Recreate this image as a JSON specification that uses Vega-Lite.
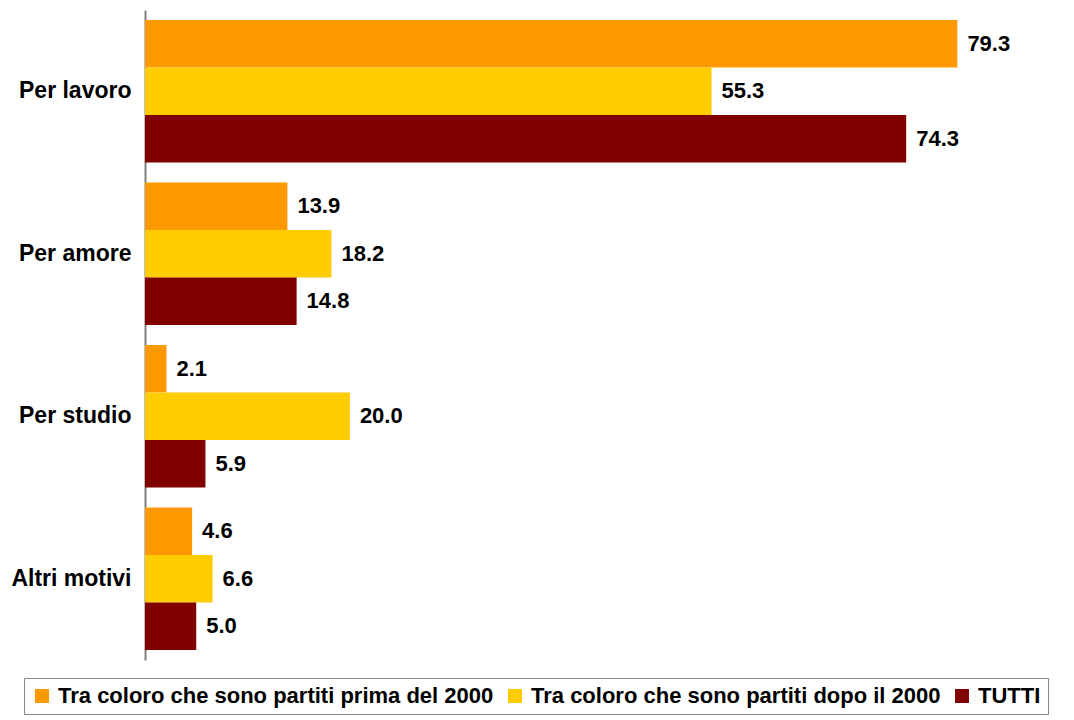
{
  "$schema": "https://vega.github.io/schema/vega-lite/v6.json",
  "width": 922,
  "height": 650,
  "autosize": "none",
  "padding": {"left": 145, "top": 10, "right": 7, "bottom": 60},
  "background": "white",
  "config": {
    "view": {"stroke": null},
    "font": "Liberation Sans"
  },
  "data": {
    "values": [
      {"motivo": "Per lavoro", "gruppo": "Tra coloro che sono partiti prima del 2000", "ord": 1, "valore": 79.3},
      {"motivo": "Per lavoro", "gruppo": "Tra coloro che sono partiti dopo il 2000", "ord": 2, "valore": 55.3},
      {"motivo": "Per lavoro", "gruppo": "TUTTI", "ord": 3, "valore": 74.3},
      {"motivo": "Per amore", "gruppo": "Tra coloro che sono partiti prima del 2000", "ord": 1, "valore": 13.9},
      {"motivo": "Per amore", "gruppo": "Tra coloro che sono partiti dopo il 2000", "ord": 2, "valore": 18.2},
      {"motivo": "Per amore", "gruppo": "TUTTI", "ord": 3, "valore": 14.8},
      {"motivo": "Per studio", "gruppo": "Tra coloro che sono partiti prima del 2000", "ord": 1, "valore": 2.1},
      {"motivo": "Per studio", "gruppo": "Tra coloro che sono partiti dopo il 2000", "ord": 2, "valore": 20.0},
      {"motivo": "Per studio", "gruppo": "TUTTI", "ord": 3, "valore": 5.9},
      {"motivo": "Altri motivi", "gruppo": "Tra coloro che sono partiti prima del 2000", "ord": 1, "valore": 4.6},
      {"motivo": "Altri motivi", "gruppo": "Tra coloro che sono partiti dopo il 2000", "ord": 2, "valore": 6.6},
      {"motivo": "Altri motivi", "gruppo": "TUTTI", "ord": 3, "valore": 5.0}
    ]
  },
  "encoding": {
    "y": {
      "field": "motivo",
      "type": "nominal",
      "sort": ["Per lavoro", "Per amore", "Per studio", "Altri motivi"],
      "scale": {"paddingInner": 0.123, "paddingOuter": 0.062},
      "axis": {
        "title": null,
        "ticks": false,
        "labelFontSize": 23,
        "labelFontWeight": "bold",
        "labelColor": "black",
        "labelPadding": 14,
        "domainColor": "#808080",
        "domainWidth": 2
      }
    },
    "yOffset": {"field": "ord", "type": "ordinal", "scale": {"paddingInner": 0, "paddingOuter": 0}},
    "x": {
      "field": "valore",
      "type": "quantitative",
      "scale": {"domain": [0, 90], "nice": false},
      "axis": null
    }
  },
  "layer": [
    {
      "mark": {"type": "bar"},
      "encoding": {
        "color": {
          "field": "gruppo",
          "type": "nominal",
          "sort": ["Tra coloro che sono partiti prima del 2000", "Tra coloro che sono partiti dopo il 2000", "TUTTI"],
          "scale": {
            "domain": ["Tra coloro che sono partiti prima del 2000", "Tra coloro che sono partiti dopo il 2000", "TUTTI"],
            "range": ["#FF9900", "#FFCC00", "#800000"]
          },
          "legend": {
            "title": null,
            "orient": "none",
            "direction": "horizontal",
            "columns": 3,
            "legendX": -121,
            "legendY": 668,
            "symbolType": "square",
            "symbolSize": 196,
            "symbolStrokeWidth": 0,
            "labelFontSize": 22,
            "labelFontWeight": "bold",
            "labelColor": "black",
            "labelLimit": 700,
            "labelOffset": 5,
            "columnPadding": 10,
            "padding": 7,
            "strokeColor": "#888888",
            "fillColor": "white"
          }
        }
      }
    },
    {
      "mark": {"type": "text", "align": "left", "baseline": "middle", "dx": 10, "fontSize": 22, "fontWeight": "bold", "color": "black"},
      "encoding": {
        "text": {"field": "valore", "type": "quantitative", "format": ".1f"}
      }
    }
  ]
}
